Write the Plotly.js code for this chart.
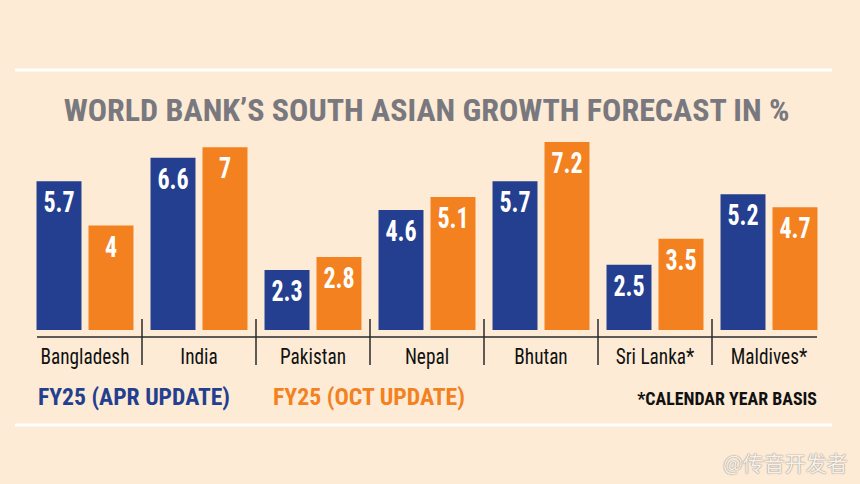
<!DOCTYPE html>
<html>
<head>
<meta charset="utf-8">
<script src="https://cdn.plot.ly/plotly-3.0.1.min.js"></script>
<style>
  html, body { margin: 0; padding: 0; background: #fdebd5; }
  #chart { width: 860px; height: 484px; }
</style>
</head>
<body>
<div id="chart"></div>
<script>
// ---- data ----
const categories = ['Bangladesh', 'India', 'Pakistan', 'Nepal', 'Bhutan', 'Sri Lanka*', 'Maldives*'];
const aprValues = [5.7, 6.6, 2.3, 4.6, 5.7, 2.5, 5.2];
const octValues = [4, 7, 2.8, 5.1, 7.2, 3.5, 4.7];
const seriesNames = ['FY25 (APR UPDATE)', 'FY25 (OCT UPDATE)'];
const titleText = 'WORLD BANK\u2019S SOUTH ASIAN GROWTH FORECAST IN %';
const footnoteText = '*CALENDAR YEAR BASIS';
const watermarkText = '@传音开发者';

// ---- style ----
const BG = '#fdebd5';
const BLUE = '#243f8f';
const ORANGE = '#f3811f';
const NARROW = '"Liberation Sans Narrow", "Arial Narrow", "Roboto Condensed", "DejaVu Sans Condensed", sans-serif';

const W = 860, H = 484;
const M = {l: 28, r: 34, t: 130, b: 147};
const plotW = W - M.l - M.r, plotH = H - M.t - M.b;
// pixel -> paper helpers (layout placement only)
const px = x => (x - M.l) / plotW;
const py = y => (H - M.b - y) / plotH;

function barTrace(name, values, color) {
  return {
    type: 'bar',
    name: name,
    x: categories,
    y: values,
    marker: {color: color, line: {width: 0}},
    text: values.map(v => String(v)),
    textposition: 'inside',
    insidetextanchor: 'end',
    textangle: 0,
    constraintext: 'none',
    textfont: {family: NARROW, size: 30, color: '#ffffff', weight: 700},
    hoverinfo: 'skip'
  };
}

const data = [
  barTrace(seriesNames[0], aprValues, BLUE),
  barTrace(seriesNames[1], octValues, ORANGE)
];

const shapes = [
  {type: 'line', xref: 'paper', yref: 'paper', x0: px(15), x1: px(832), y0: py(70), y1: py(70),
   line: {color: '#ffffff', width: 3}},
  {type: 'line', xref: 'paper', yref: 'paper', x0: px(15), x1: px(832), y0: py(425), y1: py(425),
   line: {color: '#ffffff', width: 3}},
  {type: 'line', xref: 'paper', yref: 'paper', x0: px(37), x1: px(817), y0: 0, y1: 0,
   line: {color: '#2a2a2a', width: 1.5}}
];
for (let i = 0; i < categories.length - 1; i++) {
  shapes.push({type: 'line', xref: 'x', yref: 'paper', x0: i + 0.5, x1: i + 0.5,
    y0: py(319), y1: py(365), line: {color: '#2a2a2a', width: 1.5}});
}

const annotations = [
  {text: seriesNames[0], xref: 'paper', yref: 'paper', x: px(36), y: py(397), xanchor: 'left', yanchor: 'middle',
   showarrow: false, font: {family: NARROW, size: 23, color: BLUE, weight: 700}},
  {text: seriesNames[1], xref: 'paper', yref: 'paper', x: px(271), y: py(397), xanchor: 'left', yanchor: 'middle',
   showarrow: false, font: {family: NARROW, size: 23, color: ORANGE, weight: 700}},
  {text: footnoteText, xref: 'paper', yref: 'paper', x: px(819), y: py(398), xanchor: 'right', yanchor: 'middle',
   showarrow: false, font: {family: NARROW, size: 19, color: '#111111', weight: 700}},
  {text: watermarkText, xref: 'paper', yref: 'paper', x: px(850), y: py(462), xanchor: 'right', yanchor: 'middle',
   showarrow: false, font: {family: '"Noto Sans CJK SC", sans-serif', size: 21, color: '#f6f1ec',
   shadow: '0 0 1.5px #9c948c, 0 0 1px #9c948c'}}
];

const layout = {
  width: W, height: H,
  paper_bgcolor: BG, plot_bgcolor: BG,
  margin: M,
  showlegend: false,
  barmode: 'group',
  bargap: 0.088,
  bargroupgap: 0.135,
  title: {
    text: titleText,
    xref: 'container', yref: 'container',
    x: 0.496, xanchor: 'center',
    y: 1 - 110 / H, yanchor: 'middle',
    font: {family: NARROW, size: 32, color: '#78787e', weight: 700}
  },
  xaxis: {
    type: 'category',
    showline: false, showgrid: false, zeroline: false,
    ticks: '', ticklabelstandoff: 4,
    tickfont: {family: NARROW, size: 22, color: '#111111'},
    fixedrange: true
  },
  yaxis: {
    visible: false,
    range: [-0.268, 7.663],
    fixedrange: true
  },
  shapes: shapes,
  annotations: annotations,
  font: {family: NARROW}
};

// horizontally condense a text element (to mimic the condensed typeface)
function condense(el, s, anchor) {
  if (!el || !isFinite(s) || s <= 0) return;
  const b = el.getBBox();
  const cx = anchor === 'left' ? b.x : anchor === 'right' ? b.x + b.width : b.x + b.width / 2;
  const prev = el.getAttribute('transform') || '';
  el.setAttribute('transform', prev + ' translate(' + cx + ',0) scale(' + s + ',1) translate(' + (-cx) + ',0)');
}
function widthOf(el) { return el ? el.getBBox().width : 0; }

Plotly.newPlot('chart', data, layout, {displayModeBar: false, staticPlot: true}).then(gd => {
  const t = gd.querySelector('text.gtitle');
  if (t) condense(t, 726 / widthOf(t), 'center');

  const anns = gd.querySelectorAll('g.annotation');
  const targets = [[192, 'left'], [192, 'left'], [180, 'right'], [null, null]];
  anns.forEach(g => {
    const idx = +g.getAttribute('data-index');
    const tx = g.querySelector('text.annotation-text');
    const tg = targets[idx];
    if (tg && tg[0]) condense(tx, tg[0] / widthOf(tx), tg[1]);
  });

  const ticks = Array.from(gd.querySelectorAll('.xtick text'));
  if (ticks.length) {
    const s = 89 / widthOf(ticks[0]);
    ticks.forEach(tx => condense(tx, s, 'center'));
  }

  gd.querySelectorAll('text.bartext').forEach(tx => condense(tx, 0.8, 'center'));
});
</script>
</body>
</html>
